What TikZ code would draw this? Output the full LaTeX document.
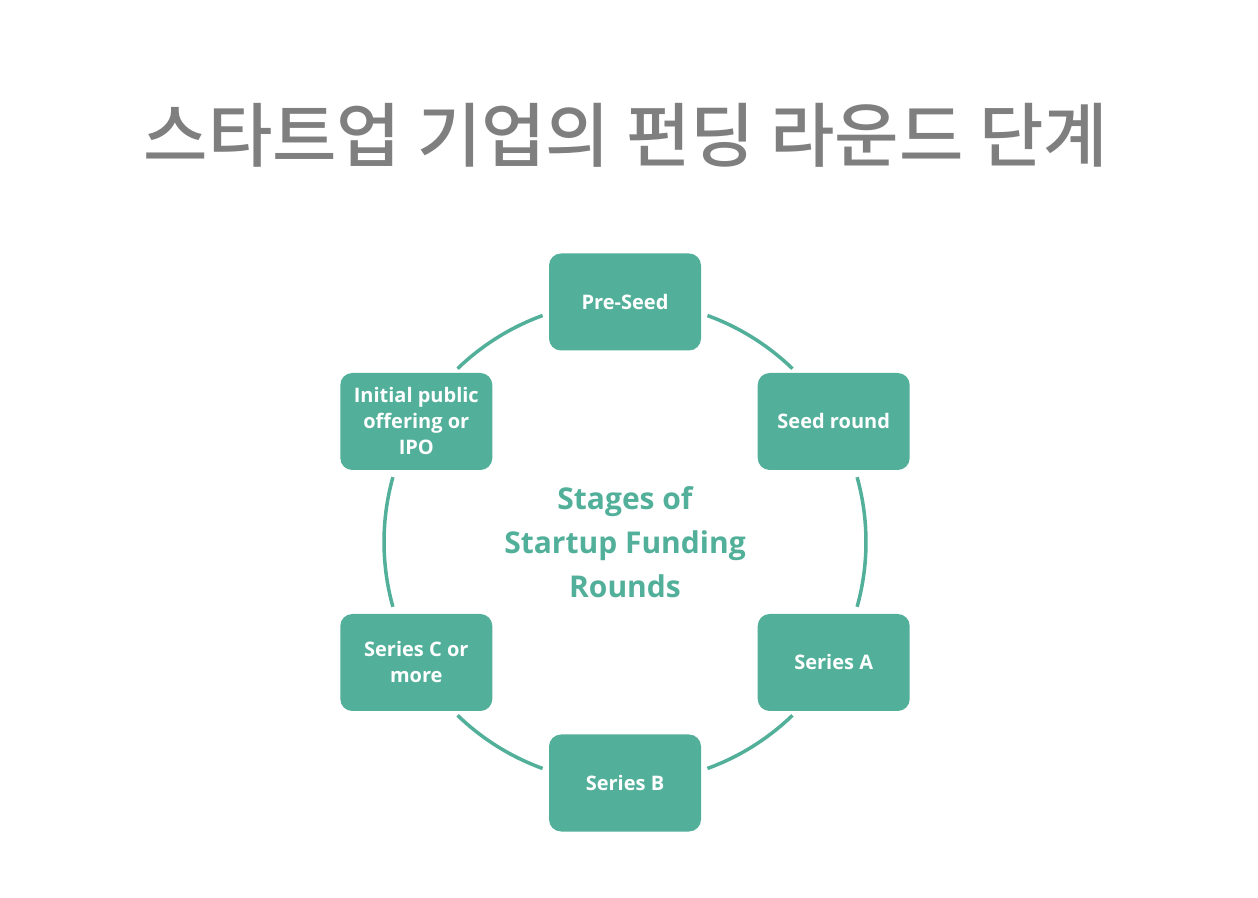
\documentclass[tikz,border=0pt]{standalone}
\usepackage{fontspec}
\setmainfont{Open Sans}
\newfontfamily\krfont{Noto Sans CJK KR Medium}
\definecolor{teal1}{HTML}{52B09A}
\definecolor{gray1}{HTML}{7F7F7F}
\begin{document}
\begin{tikzpicture}[x=1pt,y=1pt,
  stagebox/.style={fill=teal1,draw=none,rounded corners=12pt,minimum width=152pt,minimum height=97pt,
    text=white,font=\fontsize{20}{26}\selectfont\bfseries,align=center,inner sep=0pt},
  ring/.style={draw=teal1,line width=3.5pt}]
\useasboundingbox (0,0) rectangle (1258,897);
\fill[white] (0,0) rectangle (1258,897);
\node[text=gray1,font=\krfont\fontsize{70}{74}\selectfont] (title) at (626,762) {스타트업 기업의 펀딩 라운드 단계};
\coordinate (c) at (625,355);
\node[text=teal1,font=\fontsize{30}{44}\selectfont\bfseries,align=center] (center) at (625,355) {Stages of\\Startup Funding\\Rounds};
\node[stagebox] (pre) at (625,595) {Pre-Seed};
\node[stagebox] (seed) at (833.7,475.5) {Seed round};
\node[stagebox] (sa) at (833.7,234.5) {Series A};
\node[stagebox] (sb) at (625,114) {Series B};
\node[stagebox] (sc) at (416.3,234.5) {Series C or\\more};
\node[stagebox] (ipo) at (416.3,475.5) {Initial public\\offering or\\IPO};
\draw[ring] (c) ++(70:241) arc[start angle=70,end angle=46,radius=241];
\draw[ring] (c) ++(15.6:241) arc[start angle=15.6,end angle=-15.6,radius=241];
\draw[ring] (c) ++(-46:241) arc[start angle=-46,end angle=-70,radius=241];
\draw[ring] (c) ++(-110:241) arc[start angle=-110,end angle=-134,radius=241];
\draw[ring] (c) ++(-164.4:241) arc[start angle=-164.4,end angle=-195.6,radius=241];
\draw[ring] (c) ++(134:241) arc[start angle=134,end angle=110,radius=241];
\end{tikzpicture}
\end{document}
